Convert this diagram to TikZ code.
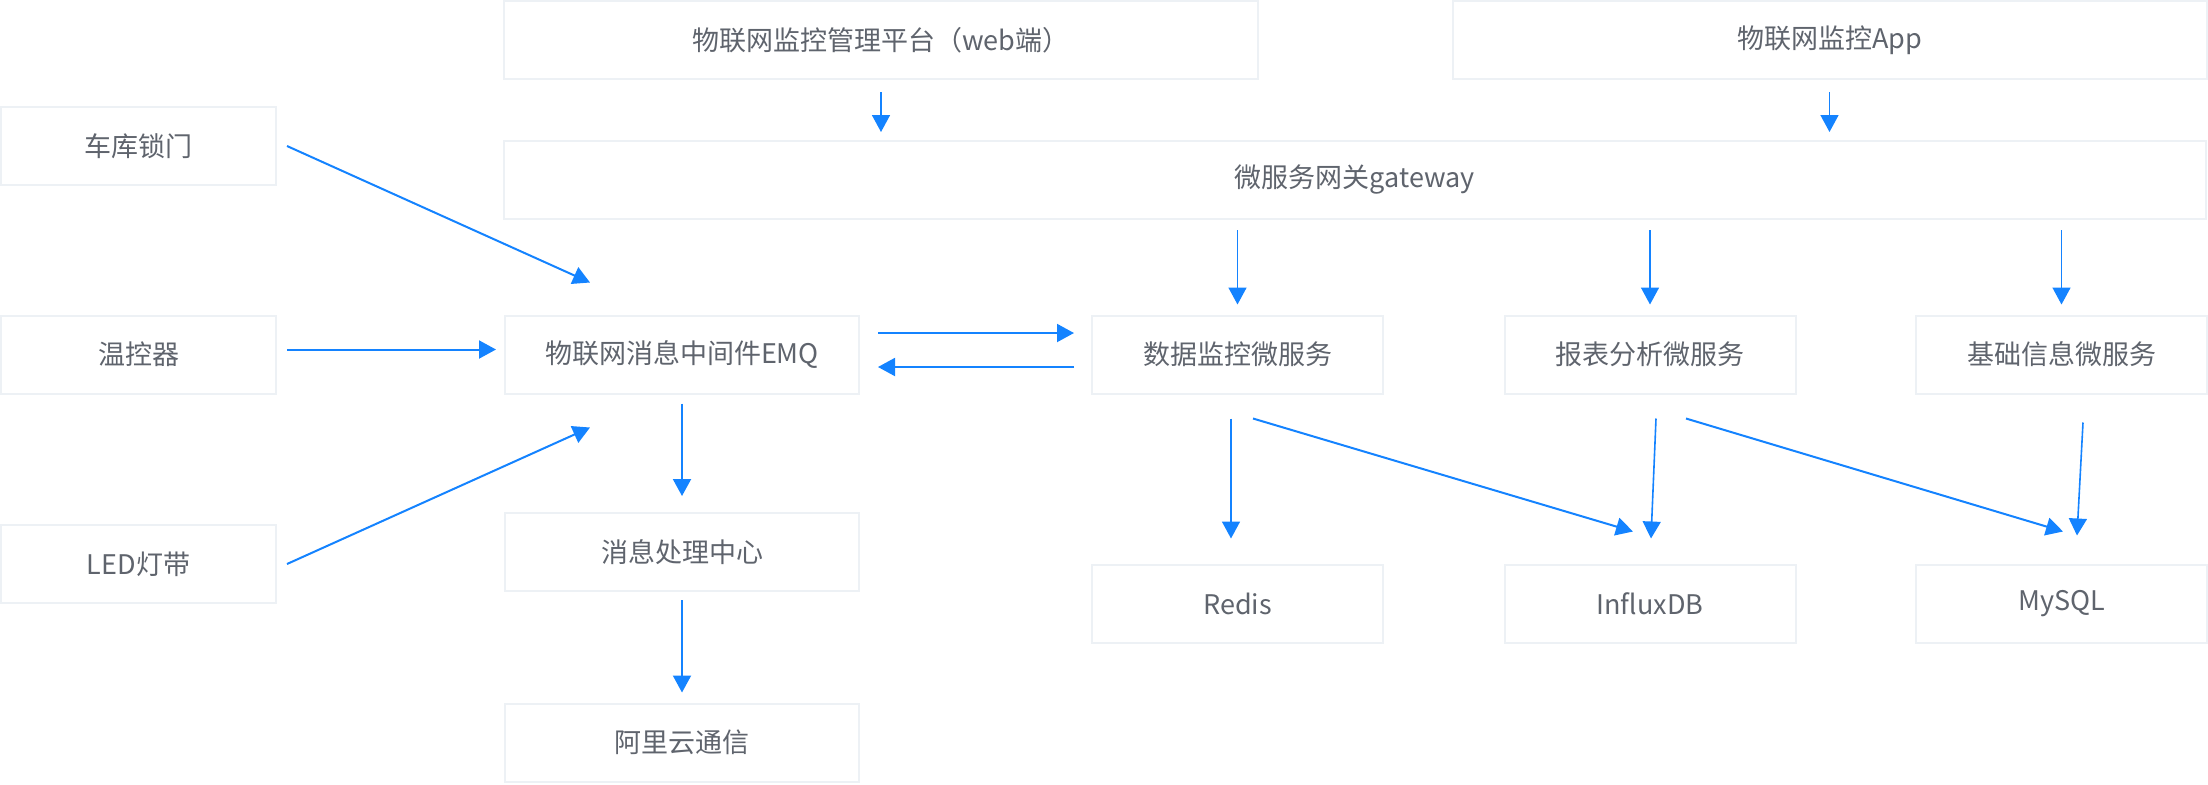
\documentclass[tikz,border=0pt]{standalone}
\usepackage{fontspec}
\setmainfont{Noto Sans CJK SC}
\usetikzlibrary{arrows.meta,calc}
\definecolor{boxline}{HTML}{EDF1F5}
\definecolor{txt}{HTML}{5F646D}
\definecolor{arr}{HTML}{1483FF}
\tikzset{
  box/.style={draw=boxline, line width=1pt, fill=white, text=txt, font=\fontsize{13.5pt}{16pt}\selectfont, inner sep=0pt, minimum height=39pt},
  wbig/.style={minimum width=377pt},
  wmid/.style={minimum width=177pt},
  wsml/.style={minimum width=145.5pt},
  wside/.style={minimum width=137.5pt},
  link/.style={draw=arr, line width=1pt, -{Triangle[length=8.5pt,width=9pt]}},
  vlink/.style={draw=arr, line width=0.8pt, -{Triangle[length=8.5pt,width=9pt]}},
}
\begin{document}
\begin{tikzpicture}[x=0.5pt,y=-0.5pt]
\useasboundingbox (0,0) rectangle (2208,784);
% top
\node[box,wbig] (web) at (881,40) {物联网监控管理平台（web端）};
\node[box,wbig] (app) at (1829.5,40) {物联网监控App};
\node[box,minimum width=851pt] (gw) at (1355,180) {微服务网关gateway};
% devices
\node[box,wside] (car) at (138.5,146) {车库锁门};
\node[box,wside] (therm) at (138.5,354.5) {温控器};
\node[box,wside] (led) at (138.5,564) {LED灯带};
% middle column
\node[box,wmid] (emq) at (682,354.5) {物联网消息中间件EMQ};
\node[box,wmid] (proc) at (682,552) {消息处理中心};
\node[box,wmid] (ali) at (682,742.5) {阿里云通信};
% services
\node[box,wsml] (data) at (1237.5,354.5) {数据监控微服务};
\node[box,wsml] (report) at (1650,354.5) {报表分析微服务};
\node[box,wsml] (base) at (2061.5,354.5) {基础信息微服务};
% stores
\node[box,wsml] (redis) at (1237.5,603.5) {Redis};
\node[box,wsml] (influx) at (1650,603.5) {InfluxDB};
\node[box,wsml] (mysql) at (2061.5,603.5) {MySQL};
% arrows from top
\draw[vlink, shorten <=6pt, shorten >=4pt] (web.south) -- (web.south |- gw.north);
\draw[vlink, shorten <=6pt, shorten >=4pt] (app.south) -- (app.south |- gw.north);
\draw[vlink, shorten <=5pt, shorten >=5pt] (gw.south -| data.north) -- (data.north);
\draw[vlink, shorten <=5pt, shorten >=5pt] (gw.south -| report.north) -- (report.north);
\draw[vlink, shorten <=5pt, shorten >=5pt] (gw.south -| base.north) -- (base.north);
% devices to EMQ
\draw[link] ($(car.east)+(10,0)$) -- ($(emq.north west)+(86,-32)$);
\draw[link] ($(therm.east)+(10,-5)$) -- ($(emq.west)+(-8,-5)$);
\draw[link] ($(led.east)+(10,0)$) -- ($(emq.south west)+(86,33)$);
% EMQ <-> data
\draw[link] ($(emq.east)+(18,-21.5)$) -- ($(data.west)+(-17,-21.5)$);
\draw[link] ($(data.west)+(-17,12.5)$) -- ($(emq.east)+(18,12.5)$);
% EMQ chain
\draw[link, shorten <=4.5pt, shorten >=8pt] (emq.south) -- (proc.north);
\draw[link, shorten <=4pt, shorten >=5pt] (proc.south) -- (ali.north);
% services to stores
\draw[vlink] ($(data.south)+(-6.5,24)$) -- ($(redis.north)+(-6.5,-25)$);
\draw[link] ($(data.south)+(15.5,24)$) -- ($(influx.north)+(-17,-32)$);
\draw[vlink] ($(report.south)+(6,24)$) -- ($(influx.north)+(1,-25)$);
\draw[link] ($(report.south)+(36,24)$) -- ($(mysql.north)+(1.5,-32)$);
\draw[vlink] ($(base.south)+(21.5,28)$) -- ($(mysql.north)+(15.5,-28)$);
\end{tikzpicture}
\end{document}
